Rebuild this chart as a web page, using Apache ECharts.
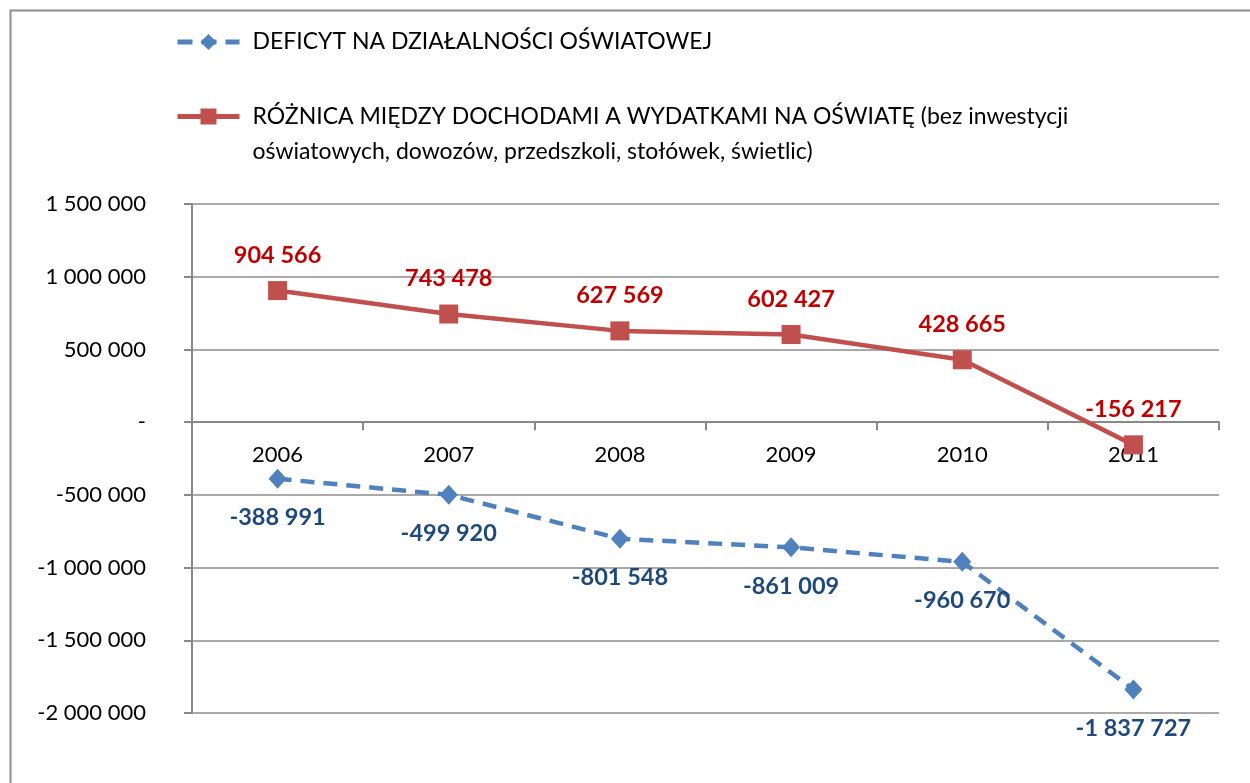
<!DOCTYPE html>
<html>
<head>
<meta charset="utf-8">
<script src="https://cdn.jsdelivr.net/npm/echarts@6/dist/echarts.min.js"></script>
<style>
html,body{margin:0;padding:0;background:#fff;}
#chart{width:1250px;height:783px;}
</style>
</head>
<body>
<div id="chart"></div>
<script>
const years = ['2006', '2007', '2008', '2009', '2010', '2011'];
const deficit = [-388991, -499920, -801548, -861009, -960670, -1837727];
const difference = [904566, 743478, 627569, 602427, 428665, -156217];
const nameDeficit = 'DEFICYT NA DZIAŁALNOŚCI OŚWIATOWEJ';
const nameDiff = 'RÓŻNICA MIĘDZY DOCHODAMI A WYDATKAMI NA OŚWIATĘ (bez inwestycji oświatowych, dowozów, przedszkoli, stołówek, świetlic)';
const diffLine1 = 'RÓŻNICA MIĘDZY DOCHODAMI A WYDATKAMI NA OŚWIATĘ (bez inwestycji';
const diffLine2 = 'oświatowych, dowozów, przedszkoli, stołówek, świetlic)';

function fmt(v) {
  const s = Math.abs(Math.round(v)).toString().replace(/\B(?=(\d{3})+(?!\d))/g, ' ');
  return (v < 0 ? '-' : '') + s;
}

const FONT = 'Lato, "Open Sans", sans-serif';
const GRID_TOP = 204, GRID_BOTTOM = 70, H = 783;
const Y_MIN = -2000000, Y_MAX = 1500000;
// place the category axis on the zero line (labels included)
const plotH = H - GRID_TOP - GRID_BOTTOM;
const zeroOffset = -(plotH * (0 - Y_MIN) / (Y_MAX - Y_MIN));

const chart = echarts.init(document.getElementById('chart'), null, {renderer: 'canvas'});
chart.setOption({
  animation: false,
  backgroundColor: '#fff',
  graphic: [{
    type: 'rect', left: 8, top: 8,
    shape: {x: 0, y: 0, width: 1260, height: 800},
    style: {fill: 'none', stroke: '#8c8c8c', lineWidth: 2},
    silent: true, z: -1
  }],
  legend: [{
    data: [nameDeficit],
    left: 175, top: 27, padding: 0,
    itemWidth: 62, itemHeight: 20,
    lineStyle: {width: 5, type: [15, 9]},
    textStyle: {fontFamily: FONT, fontSize: 23, color: '#000', lineHeight: 30, padding: [0, 0, 0, 8]}
  }, {
    data: [nameDiff],
    left: 175, top: 64, padding: 0,
    itemWidth: 62, itemHeight: 20,
    lineStyle: {width: 5},
    formatter: () => '\n' + diffLine1 + '\n' + diffLine2,
    textStyle: {fontFamily: FONT, fontSize: 23, color: '#000', lineHeight: 35, padding: [0, 0, 0, 8]}
  }],
  grid: {left: 192, right: 31, top: GRID_TOP, bottom: GRID_BOTTOM, containLabel: false},
  xAxis: {
    type: 'category',
    data: years,
    boundaryGap: true,
    offset: zeroOffset,
    axisLine: {onZero: false, lineStyle: {color: '#888', width: 2}},
    axisTick: {show: true, length: 8, lineStyle: {color: '#888', width: 2}},
    axisLabel: {fontFamily: FONT, fontSize: 22, color: '#000', margin: 22}
  },
  yAxis: {
    type: 'value',
    min: Y_MIN, max: Y_MAX, interval: 500000,
    axisLine: {show: true, lineStyle: {color: '#888', width: 2}},
    axisTick: {show: true, length: 8, lineStyle: {color: '#888', width: 2}},
    splitLine: {lineStyle: {color: '#8c8c8c', width: 1.5}},
    axisLabel: {
      fontFamily: FONT, fontSize: 22, color: '#000', margin: 46,
      formatter: v => v === 0 ? '-' : fmt(v)
    }
  },
  series: [{
    name: nameDeficit,
    type: 'line',
    data: deficit,
    symbol: 'diamond', symbolSize: [18, 20],
    itemStyle: {color: '#4F81BD'},
    lineStyle: {color: '#4F81BD', width: 4.5, type: [14, 9]},
    label: {
      show: true, position: 'bottom', distance: 17,
      fontFamily: FONT, fontSize: 23.5, fontWeight: 'bold', color: '#1F497D',
      formatter: p => fmt(p.value)
    },
    z: 3
  }, {
    name: nameDiff,
    type: 'line',
    data: difference,
    symbol: 'rect', symbolSize: 19,
    itemStyle: {color: '#C0504D'},
    lineStyle: {color: '#C0504D', width: 4.5},
    label: {
      show: true, position: 'top', distance: 14,
      fontFamily: FONT, fontSize: 23.5, fontWeight: 'bold', color: '#C00000',
      formatter: p => fmt(p.value)
    },
    z: 4
  }]
});
</script>
</body>
</html>
